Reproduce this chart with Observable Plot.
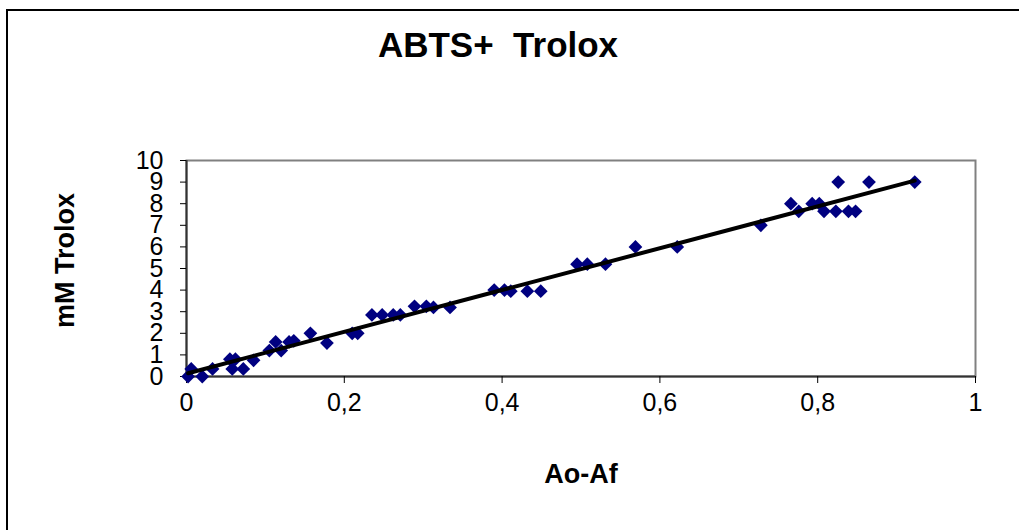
<!DOCTYPE html>
<html>
<head>
<meta charset="utf-8">
<script src="https://cdn.jsdelivr.net/npm/d3@7"></script>
<script src="https://cdn.jsdelivr.net/npm/@observablehq/plot@0.6"></script>
<style>
  html, body { margin: 0; padding: 0; background: #fff; }
  #wrap { position: relative; width: 1019px; height: 530px; overflow: hidden; }
  #border { position: absolute; left: 6px; top: 9px; right: -10px; bottom: -10px;
            border-top: 2px solid #000; border-left: 2px solid #000; pointer-events: none; }
</style>
</head>
<body>
<div id="wrap"></div>
<script>
const title = "ABTS+  Trolox";
const xLabel = "Ao-Af";
const yLabel = "mM Trolox";
const xTicks = [0, 0.2, 0.4, 0.6, 0.8, 1];
const yTicks = [0, 1, 2, 3, 4, 5, 6, 7, 8, 9, 10];

// Ao-Af absorbance differences
const absorbance = [0.002, 0.006, 0.020, 0.033, 0.055, 0.058, 0.062, 0.072, 0.085, 0.105,
  0.113, 0.120, 0.130, 0.136, 0.157, 0.178, 0.210, 0.217, 0.235, 0.248,
  0.262, 0.271, 0.289, 0.304, 0.313, 0.334, 0.390, 0.403, 0.411, 0.432,
  0.449, 0.495, 0.508, 0.531, 0.569, 0.622, 0.728, 0.766, 0.776, 0.793,
  0.802, 0.808, 0.823, 0.826, 0.839, 0.848, 0.865, 0.923];
// mM Trolox
const trolox = [0, 0.35, 0, 0.35, 0.8, 0.35, 0.8, 0.35, 0.75, 1.2,
  1.6, 1.2, 1.6, 1.65, 2.0, 1.55, 2.0, 2.0, 2.85, 2.85,
  2.85, 2.85, 3.25, 3.25, 3.2, 3.2, 4.0, 4.0, 3.95, 3.95,
  3.95, 5.2, 5.2, 5.2, 6.0, 6.0, 7.0, 8.0, 7.65, 8.0,
  8.0, 7.65, 7.65, 9.0, 7.65, 7.65, 9.0, 9.0];

const data = absorbance.map((x, i) => ({x, y: trolox[i]}));

const chart = Plot.plot({
  width: 1019,
  height: 530,
  marginLeft: 186,
  marginRight: 44,
  marginTop: 160,
  marginBottom: 154,
  style: {fontFamily: "'Liberation Sans', Arial, sans-serif", fontSize: "25px", color: "#000", background: "#fff"},
  x: {domain: [0, 1], ticks: xTicks, tickFormat: d => String(d).replace(".", ","), label: null},
  y: {domain: [0, 10], ticks: yTicks, label: null},
  marks: [
    Plot.frame({stroke: "#808080", strokeWidth: 2}),
    Plot.ruleX([0], {stroke: "#333", strokeWidth: 2}),
    Plot.ruleY([0], {stroke: "#333", strokeWidth: 2}),
    Plot.axisX({ticks: xTicks, tickFormat: d => String(d).replace(".", ","), tickSize: 7, tickPadding: 10, label: null, fontSize: 25}),
    Plot.axisY({ticks: yTicks, tickSize: 6, tickPadding: 17, label: null, fontSize: 25}),
    Plot.dot(data, {x: "x", y: "y", symbol: "diamond2", r: 6.2, fill: "#000080", stroke: "none"}),
    Plot.linearRegressionY(data, {x: "x", y: "y", ci: 0, stroke: "#000", strokeWidth: 4}),
    Plot.text([title], {text: d => d, frameAnchor: "top", dx: -83, dy: -128, fontSize: 35, fontWeight: "bold", fill: "#000"}),
    Plot.text([xLabel], {text: d => d, frameAnchor: "bottom", dy: 106, fontSize: 27, fontWeight: "bold", fill: "#000"}),
    Plot.text([yLabel], {text: d => d, frameAnchor: "left", textAnchor: "middle", dx: -121, dy: -8, rotate: -90, fontSize: 27, fontWeight: "bold", fill: "#000"})
  ]
});
const wrap = document.getElementById("wrap");
wrap.appendChild(chart);
const b = document.createElement("div");
b.id = "border";
wrap.appendChild(b);
</script>
</body>
</html>
